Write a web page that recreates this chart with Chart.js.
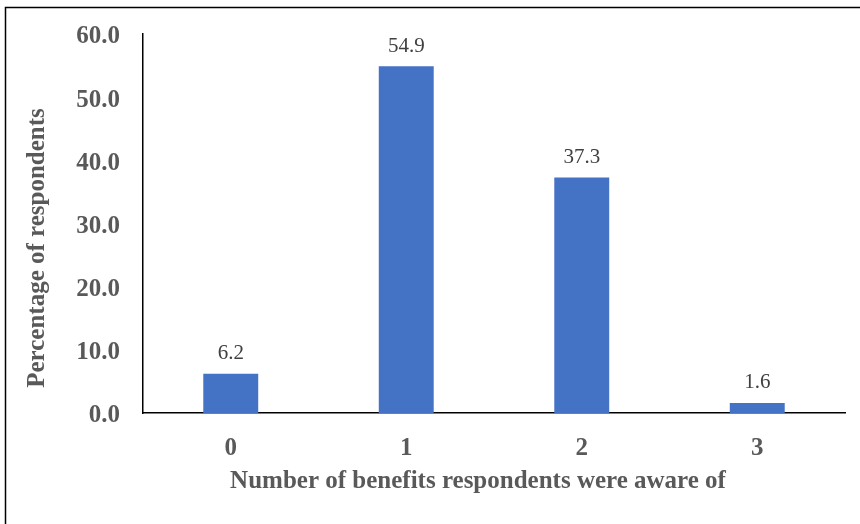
<!DOCTYPE html>
<html>
<head>
<meta charset="utf-8">
<script src="https://cdn.jsdelivr.net/npm/chart.js@4.4.1/dist/chart.umd.min.js"></script>
<style>
  html, body { margin: 0; padding: 0; background: #fff; }
  #wrap { width: 860px; height: 524px; position: relative; }
</style>
</head>
<body>
<div id="wrap"><canvas id="chart" width="860" height="524"></canvas></div>
<script>
// Share of respondents by how many benefits they were aware of
const categories = ['0', '1', '2', '3'];
const percentages = [6.2, 54.9, 37.3, 1.6];
const yTicks = [0, 10, 20, 30, 40, 50, 60];

const xTitle = 'Number of benefits respondents were aware of';
const yTitle = 'Percentage of respondents';

const serif = '"Liberation Serif", "Times New Roman", serif';

// Frame lines, axis titles and value labels
const decorations = {
  id: 'decorations',
  beforeDraw(chart) {
    const ctx = chart.ctx;
    ctx.save();
    ctx.fillStyle = '#fff';
    ctx.fillRect(0, 0, chart.width, chart.height);
    ctx.strokeStyle = '#000';
    ctx.lineWidth = 1.5;
    ctx.beginPath();
    ctx.moveTo(5.5, chart.height);
    ctx.lineTo(5.5, 7.5);
    ctx.lineTo(chart.width, 7.5);
    ctx.stroke();
    ctx.restore();
  },
  afterDatasetsDraw(chart) {
    const ctx = chart.ctx;
    const meta = chart.getDatasetMeta(0);
    const data = chart.data.datasets[0].data;
    ctx.save();
    ctx.font = '21px ' + serif;
    ctx.fillStyle = '#404040';
    ctx.textAlign = 'center';
    ctx.textBaseline = 'middle';
    meta.data.forEach((bar, i) => {
      ctx.fillText(data[i].toFixed(1), bar.x, bar.y - 20);
    });
    ctx.restore();
  },
  afterDraw(chart) {
    const ctx = chart.ctx;
    ctx.save();
    ctx.font = 'bold 25px ' + serif;
    ctx.fillStyle = '#595959';
    ctx.textAlign = 'center';
    ctx.textBaseline = 'middle';
    ctx.fillText(xTitle, 478, 482);
    ctx.translate(38, 248);
    ctx.rotate(-Math.PI / 2);
    ctx.fillText(yTitle, 0, 0);
    ctx.restore();
  }
};

new Chart(document.getElementById('chart'), {
  type: 'bar',
  data: {
    labels: categories,
    datasets: [{
      data: percentages,
      backgroundColor: '#4472C4',
      borderWidth: 0,
      categoryPercentage: 1.0,
      barPercentage: 0.313
    }]
  },
  options: {
    responsive: false,
    animation: false,
    layout: { padding: { top: 34, right: 15, left: 0, bottom: 0 } },
    plugins: {
      legend: { display: false },
      tooltip: { enabled: false }
    },
    scales: {
      x: {
        grid: { display: false, drawTicks: false },
        border: { display: true, color: '#000', width: 1.5 },
        ticks: {
          color: '#595959',
          font: { family: serif, size: 25, weight: 'bold' },
          padding: 21
        },
        afterFit(scale) {
          scale.height = 111;
          scale.paddingLeft = 0;
          scale.paddingRight = 0;
        }
      },
      y: {
        min: 0,
        max: 60,
        afterBuildTicks(scale) { scale.ticks = yTicks.map(v => ({ value: v })); },
        grid: { display: false, drawTicks: false },
        border: { display: true, color: '#000', width: 1.5 },
        ticks: {
          color: '#595959',
          font: { family: serif, size: 25, weight: 'bold' },
          padding: 23,
          labelOffset: 3,
          callback: v => Number(v).toFixed(1)
        },
        afterFit(scale) {
          scale.width = 143;
          scale.paddingTop = 0;
          scale.paddingBottom = 0;
        }
      }
    }
  },
  plugins: [decorations]
});
</script>
</body>
</html>
